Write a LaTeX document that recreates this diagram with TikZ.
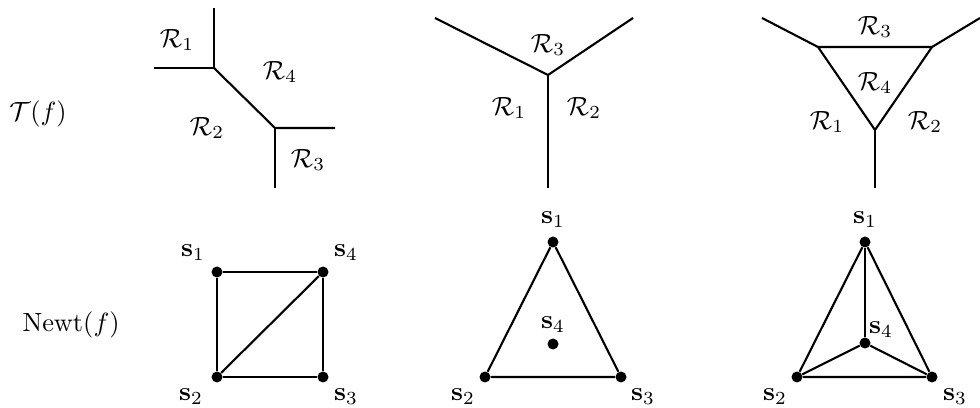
\documentclass[tikz,border=0pt]{standalone}
\usepackage{amsmath}
\begin{document}
\begin{tikzpicture}[x=0.02cm,y=-0.02cm,
  edge/.style={line width=1.2pt},
  vtx/.style={circle,fill=black,inner sep=0pt,minimum size=0.22cm},
  lbl/.style={inner sep=0pt,scale=1.5}]
\useasboundingbox (0,0) rectangle (980,408);
% row labels
\node[lbl] (Tf) at (38,114) {$\mathcal{T}(f)$};
\node[lbl] (Nf) at (71,325) {$\mathrm{Newt}(f)$};
% ---- tropical 1
\coordinate (a1) at (214,8);
\coordinate (a2) at (154,68);
\coordinate (a3) at (214,68);
\coordinate (a4) at (275,128);
\coordinate (a5) at (335,128);
\coordinate (a6) at (275,188);
\draw[edge] (a1) -- (a3) -- (a2);
\draw[edge] (a3) -- (a4) -- (a5);
\draw[edge] (a4) -- (a6);
\node[lbl] (ar1) at (177,40) {$\mathcal{R}_1$};
\node[lbl] (ar4) at (280,72) {$\mathcal{R}_4$};
\node[lbl] (ar2) at (207,128) {$\mathcal{R}_2$};
\node[lbl] (ar3) at (308,160) {$\mathcal{R}_3$};
% ---- tropical 2
\coordinate (b0) at (548,75);
\coordinate (b1) at (435,18);
\coordinate (b2) at (633,18);
\coordinate (b3) at (548,188);
\draw[edge] (b1) -- (b0) -- (b2);
\draw[edge] (b0) -- (b3);
\node[lbl] (br3) at (548,45) {$\mathcal{R}_3$};
\node[lbl] (br1) at (509,108) {$\mathcal{R}_1$};
\node[lbl] (br2) at (584,108) {$\mathcal{R}_2$};
% ---- tropical 3
\coordinate (c1) at (818,47);
\coordinate (c2) at (932,47);
\coordinate (c3) at (875,130);
\coordinate (c4) at (762,18);
\coordinate (c5) at (980,18);
\coordinate (c6) at (875,188);
\draw[edge] (c1) -- (c2) -- (c3) -- cycle;
\draw[edge] (c1) -- (c4);
\draw[edge] (c2) -- (c5);
\draw[edge] (c3) -- (c6);
\node[lbl] (cr3) at (875,27) {$\mathcal{R}_3$};
\node[lbl] (cr4) at (875,83) {$\mathcal{R}_4$};
\node[lbl] (cr1) at (827,122) {$\mathcal{R}_1$};
\node[lbl] (cr2) at (925,122) {$\mathcal{R}_2$};
% ---- Newton 1
\node[vtx] (p1) at (217,272) {};
\node[vtx] (p4) at (323,272) {};
\node[vtx] (p2) at (217,377) {};
\node[vtx] (p3) at (323,377) {};
\draw[edge] (p1) -- (p4) -- (p3) -- (p2) -- (p1);
\draw[edge] (p2) -- (p4);
\node[lbl] (pl1) at (193,253) {$\mathbf{s}_1$};
\node[lbl] (pl4) at (346,253) {$\mathbf{s}_4$};
\node[lbl] (pl2) at (191,397) {$\mathbf{s}_2$};
\node[lbl] (pl3) at (346,397) {$\mathbf{s}_3$};
% ---- Newton 2
\node[vtx] (q1) at (553,242) {};
\node[vtx] (q2) at (485,377) {};
\node[vtx] (q3) at (621,377) {};
\node[vtx] (q4) at (553,344) {};
\draw[edge] (q1) -- (q2) -- (q3) -- (q1);
\node[lbl] (ql1) at (553,220) {$\mathbf{s}_1$};
\node[lbl] (ql4) at (553,325) {$\mathbf{s}_4$};
\node[lbl] (ql2) at (463,397) {$\mathbf{s}_2$};
\node[lbl] (ql3) at (643,397) {$\mathbf{s}_3$};
% ---- Newton 3
\node[vtx] (r1) at (865,242) {};
\node[vtx] (r2) at (797,377) {};
\node[vtx] (r3) at (932,377) {};
\node[vtx] (r4) at (865,343) {};
\draw[edge] (r1) -- (r2) -- (r3) -- (r1);
\draw[edge] (r1) -- (r4);
\draw[edge] (r2) -- (r4) -- (r3);
\node[lbl] (rl1) at (865,220) {$\mathbf{s}_1$};
\node[lbl] (rl4) at (881,330) {$\mathbf{s}_4$};
\node[lbl] (rl2) at (775,397) {$\mathbf{s}_2$};
\node[lbl] (rl3) at (955,397) {$\mathbf{s}_3$};
\end{tikzpicture}
\end{document}
